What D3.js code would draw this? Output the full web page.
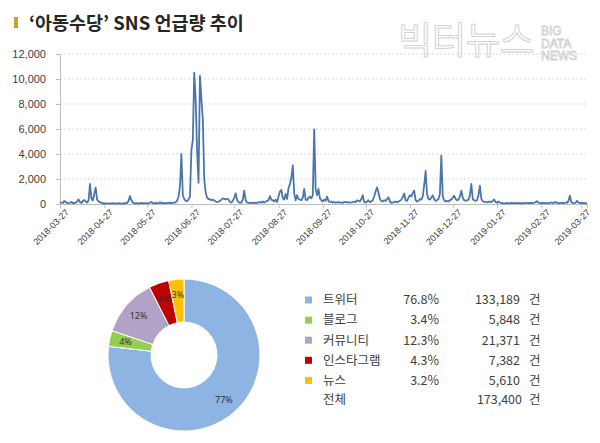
<!DOCTYPE html>
<html>
<head>
<meta charset="utf-8">
<script src="https://cdn.jsdelivr.net/npm/d3@7"></script>
<style>
  body { margin: 0; background: #fff; }
  svg { display: block; }
</style>
</head>
<body>
<svg id="chart" width="600" height="443"></svg>
<script>
// daily mentions, 2018-03-27 .. 2019-03-31
let startDate = "2018-03-27";
let mentions = [
  // 2018-03 (27-31)
  60, 120, 80, 250, 150,
  // 2018-04
  90, 60, 100, 160, 80, 60, 110, 200, 370, 150, 90, 250, 320, 200, 120, 300, 1600, 450, 280, 800,
  1300, 350, 200, 150, 90, 60, 40, 50, 30, 40,
  // 2018-05
  30, 50, 40, 60, 30, 40, 70, 50, 30, 40, 60, 50, 90, 250, 640, 300, 120, 60, 40, 70,
  50, 40, 90, 60, 50, 80, 40, 60, 100, 170, 70,
  // 2018-06
  60, 90, 50, 70, 140, 60, 80, 50, 90, 60, 100, 80, 60, 120, 90, 150, 250, 600, 1400, 4000,
  700, 400, 250, 220, 350, 600, 4300, 5100, 10500, 8300,
  // 2018-07
  4200, 1700, 10250, 8400, 6800, 2000, 900, 500, 400, 380, 300, 350, 280, 200, 150, 180, 250, 350, 450, 400,
  380, 420, 350, 150, 120, 250, 500, 850, 300, 150, 100,
  // 2018-08
  120, 350, 1070, 300, 120, 90, 100, 70, 110, 80, 100, 90, 130, 160, 100, 200, 120, 180, 250, 300,
  640, 350, 300, 200, 350, 150, 600, 1000, 1120, 500, 350,
  // 2018-09
  800, 400, 1250, 1600, 2100, 3080, 850, 300, 700, 400, 350, 300, 500, 1200, 350, 300, 500, 600, 450, 700,
  5970, 1200, 700, 1200, 450, 300, 200, 350, 250, 600,
  // 2018-10
  250, 150, 200, 120, 150, 100, 130, 150, 110, 120, 90, 150, 180, 120, 150, 100, 130, 150, 200, 150,
  300, 250, 200, 400, 700, 150, 120, 200, 300, 150, 200,
  // 2018-11
  300, 600, 1000, 1330, 900, 400, 250, 200, 300, 250, 400, 530, 200, 100, 120, 150, 200, 130, 200, 250,
  350, 550, 850, 300, 250, 500, 700, 600, 900, 1070,
  // 2018-12
  300, 200, 250, 400, 350, 600, 1500, 2640, 800, 400, 350, 500, 700, 400, 250, 300, 400, 800, 3870, 600,
  300, 200, 250, 200, 300, 350, 500, 670, 400, 300, 350,
  // 2019-01
  600, 1070, 500, 300, 250, 300, 350, 700, 1600, 400, 300, 250, 300, 700, 1470, 400, 250, 150, 180, 140,
  150, 200, 150, 250, 370, 150, 100, 200, 120, 80, 60,
  // 2019-02
  50, 60, 80, 50, 60, 90, 70, 50, 80, 60, 70, 90, 60, 50, 80, 70, 100, 60, 80, 90,
  70, 100, 150, 220, 120, 80, 60, 90,
  // 2019-03
  70, 60, 80, 50, 90, 120, 80, 100, 160, 90, 70, 60, 100, 80, 70, 120, 90, 250, 670, 150,
  90, 70, 100, 250, 120, 80, 60, 90, 70, 60, 40
];
let yTicks = [0, 2000, 4000, 6000, 8000, 10000, 12000];
let xTickLabels = ["2018-03-27", "2018-04-27", "2018-05-27", "2018-06-27", "2018-07-27", "2018-08-27",
  "2018-09-27", "2018-10-27", "2018-11-27", "2018-12-27", "2019-01-27", "2019-02-27", "2019-03-27"];

let channels = ["트위터", "블로그", "커뮤니티", "인스타그램", "뉴스"];
let shares = ["76.8%", "3.4%", "12.3%", "4.3%", "3.2%"];
let counts = [133189, 5848, 21371, 7382, 5610];
let sliceLabels = ["77%", "4%", "12%", "4%", "3%"];
let totalLabel = "전체";
let total = 173400;
let colors = ["#8db4e2", "#92d050", "#b3a2c7", "#c00000", "#ffc000"];

let svg = d3.select("#chart");
let parse = d3.utcParse("%Y-%m-%d");
let t0 = parse(startDate);
let series = mentions.map((v, i) => ({ date: d3.utcDay.offset(t0, i), value: v }));

// title
svg.append("rect").attr("x", 14).attr("y", 17).attr("width", 4).attr("height", 11).attr("fill", "#c9a231");
svg.append("text")
    .attr("x", 29).attr("y", 30)
    .attr("font-family", "'Noto Sans CJK KR', sans-serif")
    .attr("font-size", 18.5).attr("font-weight", "bold")
    .attr("fill", "#262626")
    .text("‘아동수당’ SNS 언급량 추이");

// watermark
svg.append("text")
    .attr("x", 398).attr("y", 54)
    .attr("font-family", "'Noto Sans CJK KR', sans-serif")
    .attr("font-size", 37)
    .attr("fill", "#fff").attr("stroke", "#d2d2d2").attr("stroke-width", 1)
    .text("빅터뉴스");
["BIG", "DATA", "NEWS"].forEach((s, i) => {
  svg.append("text")
      .attr("x", 541).attr("y", 35 + i * 12.5)
      .attr("font-family", "'Liberation Sans', Arial, sans-serif")
      .attr("font-size", 12)
      .attr("fill", "#fff").attr("stroke", "#d2d2d2").attr("stroke-width", 0.8)
      .text(s);
});

// line chart
let x = d3.scaleUtc()
    .domain([t0, series[series.length - 1].date])
    .range([60, 587]);
let y = d3.scaleLinear().domain([0, 12000]).range([204, 54]);

svg.append("g")
    .selectAll("line")
    .data(yTicks.slice(1))
    .join("line")
    .attr("x1", 60).attr("x2", 587)
    .attr("y1", d => y(d)).attr("y2", d => y(d))
    .attr("stroke", "#d9d9d9")
    .attr("stroke-dasharray", "2,2");

let yAxis = svg.append("g")
    .attr("transform", "translate(60,0)")
    .call(d3.axisLeft(y).tickValues(yTicks).tickSize(4).tickPadding(10).tickFormat(d3.format(",")));
yAxis.select(".domain").attr("stroke", "#bfbfbf");
yAxis.selectAll(".tick line").attr("stroke", "#bfbfbf");
yAxis.selectAll("text")
    .attr("font-family", "'Liberation Sans', Arial, sans-serif")
    .attr("font-size", 11).attr("fill", "#404040");

let xAxis = svg.append("g")
    .attr("transform", "translate(0,204)")
    .call(d3.axisBottom(x).tickValues(xTickLabels.map(parse)).tickSize(4).tickFormat(d3.utcFormat("%Y-%m-%d")));
xAxis.select(".domain").attr("stroke", "#bfbfbf");
xAxis.selectAll(".tick line").attr("stroke", "#bfbfbf");
xAxis.selectAll("text")
    .attr("font-family", "'Liberation Sans', Arial, sans-serif")
    .attr("font-size", 9).attr("fill", "#404040")
    .attr("text-anchor", "end")
    .attr("dy", null)
    .attr("transform", "translate(4,4) rotate(-45)");

svg.append("path")
    .datum(series)
    .attr("fill", "none")
    .attr("stroke", "#4a76ad")
    .attr("stroke-width", 1.8)
    .attr("stroke-linejoin", "round")
    .attr("d", d3.line().x(d => x(d.date)).y(d => y(d.value)));

// donut
let pie = d3.pie().sort(null).value(d => d);
let arcs = pie(counts);
let arc = d3.arc().innerRadius(33).outerRadius(76);
let labelArc = d3.arc().innerRadius(60).outerRadius(60);
let donut = svg.append("g").attr("transform", "translate(184,355)");
donut.selectAll("path")
    .data(arcs)
    .join("path")
    .attr("d", arc)
    .attr("fill", (d, i) => colors[i])
    .attr("stroke", "#fff")
    .attr("stroke-width", 1);
donut.selectAll("text")
    .data(arcs)
    .join("text")
    .attr("transform", d => "translate(" + labelArc.centroid(d) + ")")
    .attr("text-anchor", "middle")
    .attr("dy", "0.35em")
    .attr("font-family", "'Noto Sans', sans-serif")
    .attr("font-size", 9)
    .attr("fill", "#333")
    .text((d, i) => sliceLabels[i]);

// legend table
let legend = svg.append("g")
    .attr("font-family", "'Noto Sans CJK KR', sans-serif")
    .attr("font-size", 12.5)
    .attr("fill", "#404040");
let rows = legend.selectAll("g")
    .data(channels)
    .join("g")
    .attr("transform", (d, i) => "translate(0," + (300 + i * 20.1) + ")");
rows.append("rect")
    .attr("x", 305).attr("y", -3.5).attr("width", 7).attr("height", 7)
    .attr("fill", (d, i) => colors[i]);
rows.append("text").attr("x", 323).attr("dy", "0.35em").text(d => d);
rows.append("text").attr("x", 439).attr("dy", "0.35em").attr("text-anchor", "end").text((d, i) => shares[i]);
rows.append("text").attr("x", 520).attr("dy", "0.35em").attr("text-anchor", "end").text((d, i) => d3.format(",")(counts[i]));
rows.append("text").attr("x", 529).attr("dy", "0.35em").text("건");

let totalRow = legend.append("g").attr("transform", "translate(0,400)");
totalRow.append("text").attr("x", 323).attr("dy", "0.35em").text(totalLabel);
totalRow.append("text").attr("x", 522).attr("dy", "0.35em").attr("text-anchor", "end").text(d3.format(",")(total));
totalRow.append("text").attr("x", 529).attr("dy", "0.35em").text("건");
</script>
</body>
</html>
